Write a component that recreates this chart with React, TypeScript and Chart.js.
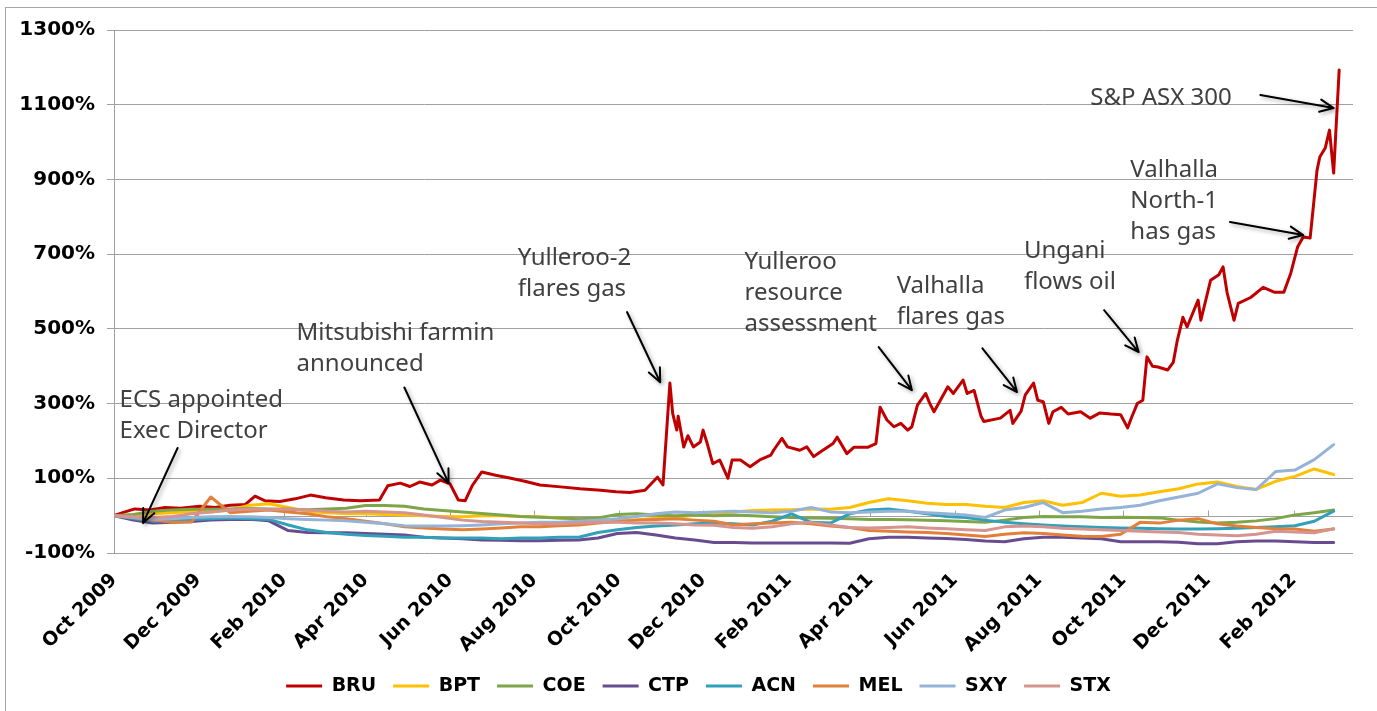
import React, { useEffect, useRef } from "react";
import { Chart, registerables } from "chart.js";

Chart.register(...registerables);

// x values are days since 1 Oct 2009
const tickDays = [0, 61, 123, 182, 243, 304, 365, 426, 488, 547, 608, 669, 730, 791, 853];
const tickLabels = [
  "Oct 2009", "Dec 2009", "Feb 2010", "Apr 2010", "Jun 2010", "Aug 2010", "Oct 2010",
  "Dec 2010", "Feb 2011", "Apr 2011", "Jun 2011", "Aug 2011", "Oct 2011", "Dec 2011", "Feb 2012",
];
const yTicks = [-100, 100, 300, 500, 700, 900, 1100, 1300];

// fortnightly sample days for the peer series
const gridDays = [
  0, 14, 28, 42, 56, 70, 84, 98, 112, 126, 140, 154, 168, 182, 196, 210,
  224, 238, 252, 266, 280, 294, 308, 322, 336, 350, 364, 378, 392, 406, 420, 434,
  448, 462, 476, 490, 504, 518, 532, 546, 560, 574, 588, 602, 616, 630, 644, 658,
  672, 686, 700, 714, 728, 742, 756, 770, 784, 798, 812, 826, 840, 854, 868, 882,
];

// BRU sampled on its own (irregular) days
const bruDays = [
  0, 8, 15, 26, 37, 48, 62, 73, 84, 95, 102, 109, 120, 131, 142, 153, 166, 178, 192, 198,
  207, 214, 221, 230, 236, 243, 249, 254, 259, 266, 276, 287, 297, 308, 323, 337, 352, 363, 373, 384,
  393, 397, 402, 404, 407, 408, 412, 415, 419, 424, 426, 429, 433, 438, 444, 447, 453, 460, 467, 475,
  477, 483, 487, 496, 501, 506, 511, 520, 523, 530, 535, 545, 551, 554, 559, 564, 569, 574, 577, 581,
  587, 590, 593, 603, 607, 614, 617, 622, 627, 629, 641, 648, 650, 656, 659, 665, 668, 672, 676, 679,
  685, 690, 699, 706, 713, 721, 728, 733, 736, 740, 744, 747, 751, 755, 762, 766, 769, 773, 776, 784,
  786, 793, 799, 802, 805, 810, 813, 822, 831, 839, 846, 851, 856, 860, 865, 870, 872, 876, 879, 882,
  886,
];
const bruValues = [
  0, 10, 18, 15, 22, 20, 25, 22, 28, 30, 52, 40, 38, 45, 55, 48, 42, 40, 42, 80,
  87, 78, 90, 82, 95, 85, 42, 40, 80, 117, 108, 100, 92, 82, 77, 72, 68, 64, 62, 68,
  103, 82, 355, 274, 229, 266, 184, 214, 184, 197, 229, 193, 139, 149, 100, 149, 149, 131, 149, 162,
  175, 207, 184, 175, 184, 158, 171, 193, 210, 166, 183, 183, 193, 290, 256, 238, 247, 229, 238, 296,
  327, 300, 278, 345, 327, 363, 327, 335, 266, 252, 261, 282, 247, 280, 323, 355, 309, 305, 247, 278,
  290, 272, 278, 261, 275, 272, 270, 235, 264, 300, 309, 425, 400, 398, 390, 410, 470, 531, 505, 577,
  523, 630, 645, 666, 596, 523, 568, 584, 611, 598, 598, 649, 720, 746, 743, 925, 960, 985, 1032, 917,
  1193,
];

const bptValues = [
  0, 2, 5, 8, 12, 10, 15, 28, 32, 22, 12, 8, 5, 5, 3, 2,
  0, -2, -3, 0, 0, -2, -3, -6, -8, -9, -12, -11, -7, -4, 1, 5,
  10, 14, 15, 16, 18, 17, 22, 35, 45, 40, 33, 30, 30, 25, 22, 35,
  40, 28, 35, 60, 52, 55, 64, 72, 85, 90, 78, 70, 92, 105, 125, 110,
];
const coeValues = [
  0, 3, 12, 15, 17, 17, 18, 19, 18, 17, 16, 18, 20, 27, 27, 25,
  18, 14, 10, 6, 2, -2, -4, -6, -8, -6, 3, 5, 2, 0, 2, 0,
  2, 0, -3, -5, -6, -7, -8, -10, -10, -11, -12, -14, -16, -18, -12, -5,
  -2, -3, -3, -5, -4, -5, -6, -12, -17, -20, -18, -14, -8, 2, 8, 15,
];
const ctpValues = [
  0, -12, -20, -18, -16, -12, -10, -10, -14, -40, -45, -46, -46, -48, -50, -52,
  -58, -60, -62, -65, -66, -67, -67, -66, -65, -60, -48, -45, -52, -60, -65, -72,
  -72, -73, -73, -73, -73, -73, -74, -62, -58, -58, -60, -61, -64, -68, -70, -62,
  -58, -58, -60, -62, -70, -70, -70, -71, -75, -75, -70, -68, -68, -70, -72, -72,
];
const acnValues = [
  0, -8, -15, -12, -10, -8, -6, -8, -10, -25, -38, -45, -50, -53, -55, -58,
  -58, -60, -60, -60, -62, -60, -60, -58, -58, -45, -38, -32, -28, -25, -22, -20,
  -22, -25, -15, 5, -18, -20, 5, 15, 18, 12, 5, -2, -5, -12, -18, -22,
  -25, -28, -30, -32, -33, -34, -35, -36, -36, -35, -34, -32, -30, -27, -15, 12,
];
const melValues = [
  0, -5, -12, -18, -17, 50, 8, 12, 15, 10, 5, -3, -8, -15, -22, -30,
  -33, -36, -38, -36, -33, -30, -30, -27, -25, -20, -16, -12, -10, -8, -12, -15,
  -25, -22, -20, -18, -22, -28, -32, -40, -42, -44, -45, -48, -52, -56, -50, -46,
  -48, -52, -55, -56, -50, -18, -20, -12, -8, -22, -28, -32, -35, -36, -42, -36,
];
const sxyValues = [
  0, -5, -10, -8, -5, -3, -2, -3, -5, -8, -10, -12, -14, -18, -22, -27,
  -28, -28, -27, -25, -22, -20, -18, -18, -15, -12, -8, -2, 5, 10, 8, 10,
  12, 10, 8, 12, 22, 10, 8, 10, 12, 12, 8, 5, 2, -5, 15, 22,
  35, 8, 12, 18, 22, 28, 40, 50, 60, 85, 75, 70, 118, 122, 150, 190,
];
const stxValues = [
  0, -3, -5, -2, 5, 10, 15, 18, 16, 18, 15, 12, 10, 12, 10, 8,
  2, -5, -12, -16, -18, -20, -22, -22, -20, -18, -18, -20, -20, -22, -25, -26,
  -32, -34, -30, -22, -18, -25, -32, -33, -32, -30, -33, -35, -38, -40, -30, -28,
  -30, -34, -36, -38, -40, -42, -44, -45, -50, -52, -54, -50, -42, -44, -46, -35,
];

const seriesNames = ["BRU", "BPT", "COE", "CTP", "ACN", "MEL", "SXY", "STX"];
const seriesColors = ["#C00000", "#FFC000", "#7EA548", "#684C8F", "#31A0B9", "#E2803A", "#95B3D7", "#D5948F"];

// annotations in data units: [day, percent]
const notes = [
  { lines: ["ECS appointed", "Exec Director"], at: [4, 290], from: [46, 181], to: [21, -20] },
  { lines: ["Mitsubishi farmin", "announced"], at: [132, 469], from: [210, 343], to: [242, 87] },
  { lines: ["Yulleroo-2", "flares gas"], at: [292, 670], from: [371, 545], to: [395, 357] },
  { lines: ["Yulleroo", "resource", "assessment"], at: [456, 660], from: [553, 451], to: [577, 336] },
  { lines: ["Valhalla", "flares gas"], at: [566, 597], from: [628, 448], to: [653, 331] },
  { lines: ["Ungani", "flows oil"], at: [658, 691], from: [716, 550], to: [741, 438] },
  { lines: ["Valhalla", "North-1", "has gas"], at: [735, 906], from: [807, 786], to: [860, 751] },
  { lines: ["S&P ASX 300"], at: [706, 1099], from: [829, 1126], to: [882, 1091] },
];

const BOLD = "'DejaVu Sans', Verdana, sans-serif";

const zeroLinePlugin = {
  id: "zeroLine",
  beforeDatasetsDraw(chart: any) {
    const { ctx, chartArea, scales } = chart;
    const y0 = Math.round(scales.y.getPixelForValue(0)) + 0.5;
    ctx.save();
    ctx.strokeStyle = "#A0A0A0";
    ctx.lineWidth = 1;
    ctx.beginPath();
    ctx.moveTo(chartArea.left, y0);
    ctx.lineTo(chartArea.right, y0);
    tickDays.forEach((d) => {
      const px = Math.round(scales.x.getPixelForValue(d)) + 0.5;
      ctx.moveTo(px, y0 - 6);
      ctx.lineTo(px, y0);
    });
    ctx.stroke();
    ctx.restore();
  },
};

// centre the legend row like the original (which sits right of the page centre)
const legendShiftPlugin = {
  id: "legendShift",
  afterLayout(chart: any) {
    if (chart.legend) chart.legend.left += 44;
  },
};

const notesPlugin = {
  id: "notes",
  afterDatasetsDraw(chart: any) {
    const { ctx, scales } = chart;
    const { x, y } = scales;
    ctx.save();
    notes.forEach((n) => {
      const tx = x.getPixelForValue(n.at[0]);
      const ty = y.getPixelForValue(n.at[1]);
      ctx.font = "24px 'Noto Sans', sans-serif";
      ctx.fillStyle = "#404040";
      ctx.textAlign = "left";
      ctx.textBaseline = "alphabetic";
      n.lines.forEach((l, i) => ctx.fillText(l, tx, ty + i * 31));
      const x1 = x.getPixelForValue(n.from[0]);
      const y1 = y.getPixelForValue(n.from[1]);
      const x2 = x.getPixelForValue(n.to[0]);
      const y2 = y.getPixelForValue(n.to[1]);
      const ang = Math.atan2(y2 - y1, x2 - x1);
      const L = 15;
      const a = 0.42;
      ctx.save();
      ctx.shadowColor = "rgba(0,0,0,0.35)";
      ctx.shadowBlur = 4;
      ctx.shadowOffsetX = 2;
      ctx.shadowOffsetY = 2;
      ctx.strokeStyle = "#000";
      ctx.lineWidth = 2;
      ctx.lineCap = "round";
      ctx.lineJoin = "round";
      ctx.beginPath();
      ctx.moveTo(x1, y1);
      ctx.lineTo(x2, y2);
      ctx.moveTo(x2 - L * Math.cos(ang - a), y2 - L * Math.sin(ang - a));
      ctx.lineTo(x2, y2);
      ctx.lineTo(x2 - L * Math.cos(ang + a), y2 - L * Math.sin(ang + a));
      ctx.stroke();
      ctx.restore();
    });
    ctx.restore();
  },
};

export default function App() {
  const canvasRef = useRef<HTMLCanvasElement | null>(null);

  useEffect(() => {
    if (!canvasRef.current) return;
    const peerValues = [bptValues, coeValues, ctpValues, acnValues, melValues, sxyValues, stxValues];
    const datasets = seriesNames.map((name, i) => {
      const pts =
        i === 0
          ? bruDays.map((d, k) => ({ x: d, y: bruValues[k] }))
          : gridDays.map((d, k) => ({ x: d, y: peerValues[i - 1][k] }));
      return {
        label: name,
        data: pts,
        borderColor: seriesColors[i],
        backgroundColor: seriesColors[i],
        borderWidth: 3,
        pointRadius: 0,
        tension: 0,
        fill: false,
        order: seriesNames.length - 1 - i,
      };
    });

    const chart = new Chart(canvasRef.current, {
      type: "line",
      data: { datasets },
      options: {
        animation: false,
        responsive: false,
        layout: { padding: { left: 0, right: 24, top: 30, bottom: 5.5 } },
        elements: { line: { borderJoinStyle: "round", borderCapStyle: "round" } },
        plugins: {
          tooltip: { enabled: false },
          legend: {
            position: "bottom",
            labels: {
              boxWidth: 36,
              boxHeight: 3,
              padding: 17,
              color: "#000",
              font: { family: BOLD, weight: "bold", size: 19 },
              sort: (a: any, b: any) => a.datasetIndex - b.datasetIndex,
              generateLabels: (c: any) =>
                (Chart.defaults.plugins.legend.labels as any)
                  .generateLabels(c)
                  .map((l: any) => ({ ...l, lineWidth: 0 })),
            },
          },
        },
        scales: {
          x: {
            type: "linear",
            min: 0,
            max: 896,
            afterBuildTicks: (s: any) => {
              s.ticks = tickDays.map((v) => ({ value: v }));
            },
            afterFit: (s: any) => {
              s.height = 106.5;
            },
            grid: { display: false },
            border: { display: false },
            ticks: {
              autoSkip: false,
              minRotation: 45,
              maxRotation: 45,
              padding: 8,
              color: "#000",
              font: { family: BOLD, weight: "bold", size: 19 },
              callback: (_v: any, i: number) => tickLabels[i],
            },
          },
          y: {
            type: "linear",
            min: -100,
            max: 1300,
            afterBuildTicks: (s: any) => {
              s.ticks = yTicks.map((v) => ({ value: v }));
            },
            afterFit: (s: any) => {
              s.width = 114;
            },
            grid: { color: "#A0A0A0", lineWidth: 1, tickLength: 7 },
            border: { display: true, color: "#A0A0A0", width: 1 },
            ticks: {
              padding: 12,
              color: "#000",
              font: { family: BOLD, weight: "bold", size: 20 },
              callback: (v: any) => v + "%",
            },
          },
        },
      },
      plugins: [zeroLinePlugin, legendShiftPlugin, notesPlugin],
    } as any);
    return () => chart.destroy();
  }, []);

  return (
    <div style={{ position: "fixed", left: 0, top: 0, width: 1377, height: 711, overflow: "hidden", background: "#fff" }}>
      <div
        style={{
          position: "absolute",
          left: 5,
          top: 7,
          width: 1420,
          height: 760,
          border: "1px solid #A6A6A6",
          pointerEvents: "none",
        }}
      />
      <canvas
        ref={canvasRef}
        width={1377}
        height={711}
        style={{ position: "absolute", left: 0, top: 0, width: 1377, height: 711 }}
      />
    </div>
  );
}
